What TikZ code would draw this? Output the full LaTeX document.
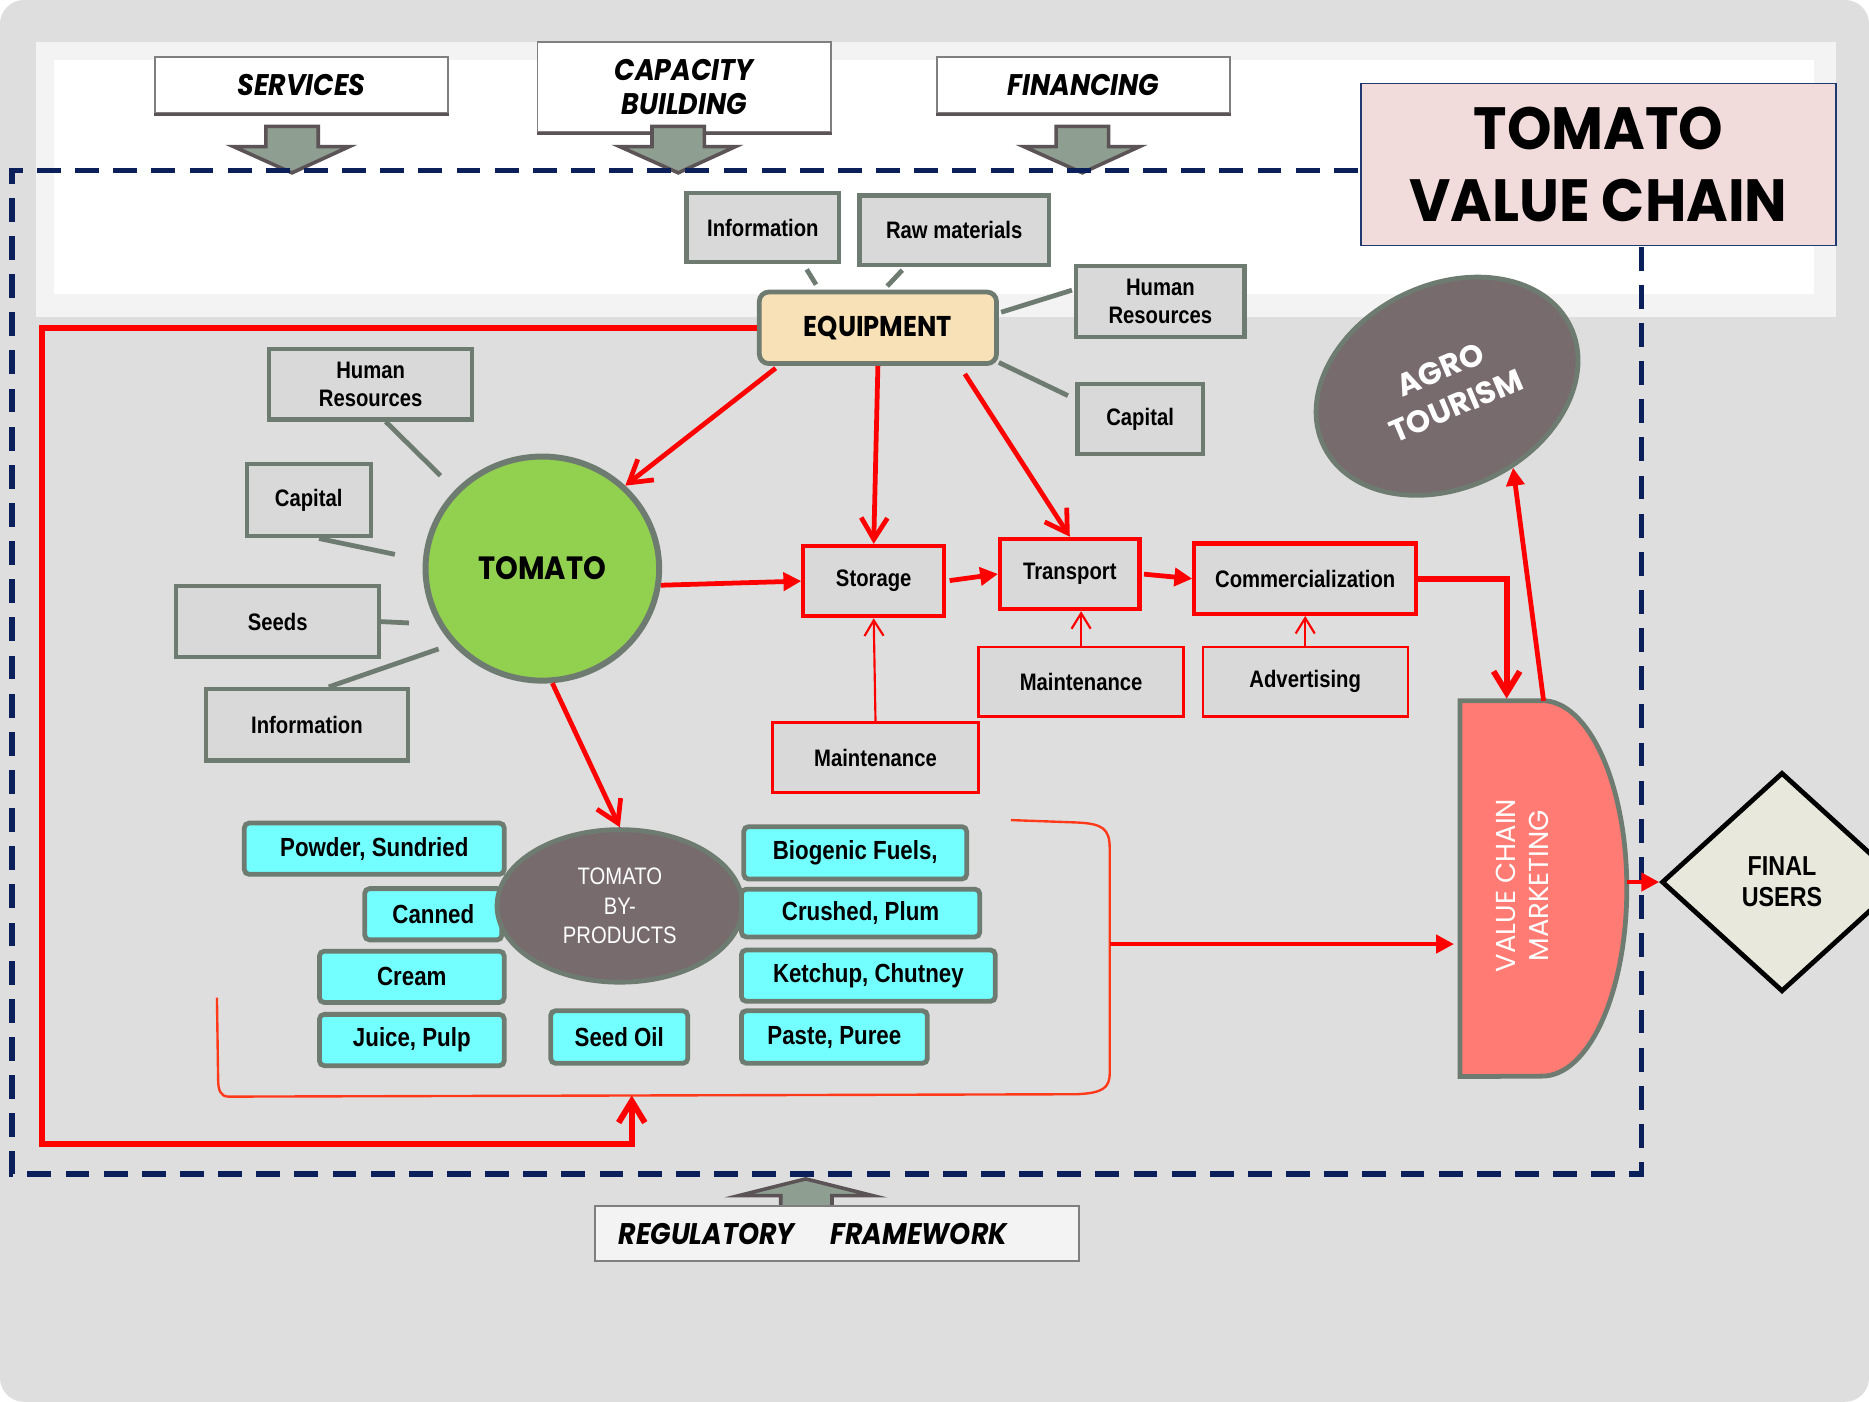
\documentclass[tikz,border=0pt]{standalone}
\usepackage{fontspec}
\setmainfont{Liberation Sans}
\newfontfamily\nar[FakeStretch=0.85]{Liberation Sans}
\newfontfamily\geo[FakeStretch=0.9]{Poppins}
\newfontfamily\geot[FakeStretch=0.95]{Poppins}
\newfontfamily\geow{Poppins}
\usetikzlibrary{arrows.meta,shapes.geometric,calc}
\definecolor{bgc}{HTML}{DEDEDE}
\definecolor{bandc}{HTML}{F3F3F3}
\definecolor{gbord}{HTML}{6E7B70}
\definecolor{gfill}{HTML}{D9D9D9}
\definecolor{cyanf}{HTML}{73FFFF}
\definecolor{wheat}{HTML}{F8E1B6}
\definecolor{tgreen}{HTML}{92D050}
\definecolor{mauve}{HTML}{776B6E}
\definecolor{salmon}{HTML}{FF7B73}
\definecolor{dfill}{HTML}{E8E8DC}
\definecolor{arrf}{HTML}{8E9E90}
\definecolor{arre}{HTML}{5B5356}
\definecolor{navy}{HTML}{0B1F5B}
\definecolor{pinkf}{HTML}{F2DCDB}
\definecolor{tbord}{HTML}{1F3A70}
\definecolor{brkc}{HTML}{FF3A1A}
\definecolor{topb}{HTML}{7F7F7F}
\tikzset{
  vtip/.tip={Straight Barb[length=18pt,width=22pt]},
  vthin/.tip={Straight Barb[length=13pt,width=16pt]},
  ttip/.tip={Triangle[length=15pt,width=15pt]},
  blockarr/.style={fill=arrf, draw=arre, line width=3pt, line join=miter},
  downblk/.pic={\draw[blockarr] (-22,-39) -- (22,-39) -- (22,-22) -- (48,-22) -- (0,0) -- (-49,-22) -- (-22,-22) -- cycle;},
  topbox/.style={draw=topb, fill=white, line width=1.5pt, inner sep=0pt, align=center,
    font=\geo\bfseries\itshape\fontsize{25}{28}\selectfont},
  grayb/.style={draw=gbord, fill=gfill, line width=3.5pt, inner sep=0pt, align=center,
    font=\nar\bfseries\fontsize{20}{24}\selectfont},
  redb/.style={draw=red, fill=gfill, line width=3.5pt, inner sep=0pt, align=center,
    font=\nar\bfseries\fontsize{20}{24}\selectfont},
  redthin/.style={redb, line width=2pt},
  cyanb/.style={draw=gbord, fill=cyanf, line width=4pt, rounded corners=4pt, inner sep=0pt,
    font=\nar\bfseries\fontsize{22}{26}\selectfont},
  grayline/.style={draw=gbord, line width=4pt},
  redarr/.style={draw=red, line width=4pt},
  redthinarr/.style={draw=red, line width=1.8pt},
}
\begin{document}
\begin{tikzpicture}[x=1pt,y=-1pt]
\useasboundingbox (0,0) rectangle (1568,1176);
\fill[white] (0,0) rectangle (1568,1176);
\fill[bgc, rounded corners=20pt] (0,0) rectangle (1568,1176);
\fill[bandc] (30,35) rectangle (1540,266);
\fill[white] (45,50) rectangle (1522,247);

% top boxes
\node[topbox, minimum width=246pt, minimum height=47pt] (services) at (253,71.5) {SERVICES};
\node[topbox, minimum width=246pt, minimum height=76pt] (capacity) at (574,73) {CAPACITY\\BUILDING};
\node[topbox, minimum width=246pt, minimum height=47pt] (financing) at (909,71.5) {FINANCING};
\foreach \n in {services,capacity,financing}{
  \draw[arre, line width=2.5pt] (\n.south west) -- (\n.south east);}
\pic at (245,145) {downblk};
\pic at (569,145) {downblk};
\pic at (908,145) {downblk};

% dashed frame
\draw[navy, line width=4.5pt, dash pattern=on 20pt off 12pt] (1377,207) -- (1377,985) -- (10,985) -- (10,143) -- (1377,143);

% title
\node[draw=tbord, fill=pinkf, line width=1.5pt, minimum width=398pt, minimum height=136pt, inner sep=0pt,
  align=center, font=\geot\bfseries\fontsize{50}{60}\selectfont] (title) at (1341,138) {TOMATO\\VALUE CHAIN};

% upper inputs
\node[grayb, minimum width=128pt, minimum height=58pt] (infoT) at (640,191) {Information};
\node[grayb, minimum width=159pt, minimum height=58pt] (raw) at (800.5,193) {Raw materials};
\node[grayb, minimum width=141pt, minimum height=60pt] (hrR) at (973.5,253) {Human\\Resources};
\node[grayb, minimum width=105pt, minimum height=59pt] (capR) at (956.5,351.5) {Capital};
\node[draw=gbord, fill=wheat, line width=4pt, rounded corners=8pt, minimum width=199pt, minimum height=60pt,
  inner sep=0pt, font=\geo\bfseries\fontsize{24}{28}\selectfont] (equip) at (736.5,275) {EQUIPMENT};

% left inputs
\node[grayb, minimum width=170pt, minimum height=59pt] (hrL) at (311,322.5) {Human\\Resources};
\node[grayb, minimum width=104pt, minimum height=61pt] (capL) at (259,419.5) {Capital};
\node[grayb, minimum width=170pt, minimum height=60pt] (seeds) at (233,521.5) {Seeds};
\node[grayb, minimum width=169pt, minimum height=60pt] (infoL) at (257.5,608) {Information};
\node[ellipse, draw=gbord, fill=tgreen, line width=5pt, minimum width=196pt, minimum height=188pt, inner sep=0pt,
  font=\geo\bfseries\fontsize{27}{30}\selectfont] (tomato) at (455,477) {TOMATO};

% gray connectors
\draw[grayline, shorten <=5pt, shorten >=5pt] (infoT.-42) -- (equip.147);
\draw[grayline, shorten <=4pt, shorten >=4pt] (raw.-143) -- (equip.81);
\draw[grayline, shorten <=2pt, shorten >=2pt] (equip.7) -- (hrR.172);
\draw[grayline, shorten >=7pt] (equip.-16) -- (capR.163);
\draw[grayline, shorten >=17pt] (hrL.-68) -- (tomato.138);
\draw[grayline, shorten >=24pt] (capL.-75) -- (tomato.176);
\draw[grayline, shorten >=24pt] (seeds.east) -- (tomato.208);
\draw[grayline, shorten >=12pt] (infoL.60) -- (tomato.220);

% processing chain
\node[redb, minimum width=118pt, minimum height=59pt] (storage) at (733,487.5) {Storage};
\node[redb, minimum width=117pt, minimum height=59pt] (transport) at (897.5,481.5) {Transport};
\node[redb, minimum width=186pt, minimum height=59pt] (comm) at (1095,485.5) {Commercialization};
\node[redthin, minimum width=172pt, minimum height=58pt] (maintT) at (907,572) {Maintenance};
\node[redthin, minimum width=172pt, minimum height=58pt] (adv) at (1095,572) {Advertising};
\node[redthin, minimum width=173pt, minimum height=59pt] (maintS) at (734.5,635.5) {Maintenance};

% agro tourism
\node[ellipse, rotate=26, draw=gbord, fill=mauve, line width=4pt, minimum width=230pt, minimum height=170pt,
  inner sep=0pt] (agro) at (1214,324) {};
\node[rotate=23, align=center, text=white, inner sep=0pt,
  font=\geow\bfseries\fontsize{26}{33}\selectfont] (agrolabel) at (1215,325) {AGRO\\TOURISM};

% value chain marketing
\node[minimum width=140pt, minimum height=315pt, inner sep=0pt] (vcm) at (1295,745.5) {};
\draw[draw=gbord, fill=salmon, line width=4pt] (vcm.north west) -- ++(69,0)
  arc[start angle=-90, end angle=90, x radius=71, y radius=157.5] -- (vcm.south west) -- cycle;
\node[rotate=90, align=center, text=white, inner sep=0pt, font=\geow\fontsize{23}{28}\selectfont] (vcmlabel) at (1277,743) {VALUE CHAIN\\MARKETING};
\coordinate (vcmin) at (1264,586);
\coordinate (vcmtop) at (1295,588);

% final users
\node[diamond, draw=black, fill=dfill, line width=4pt, minimum width=202pt, minimum height=184pt, inner sep=0pt,
  align=center, font=\nar\bfseries\fontsize{23}{26}\selectfont] (final) at (1495,740) {FINAL\\USERS};

% by-products
\node[cyanb, minimum width=218pt, minimum height=43pt] (powder) at (314,712) {Powder, Sundried};
\node[cyanb, minimum width=115pt, minimum height=43pt] (canned) at (363.5,767) {Canned};
\node[cyanb, minimum width=155pt, minimum height=43pt] (cream) at (345.5,819.5) {Cream};
\node[cyanb, minimum width=155pt, minimum height=43pt] (juice) at (345.5,872.5) {Juice, Pulp};
\node[ellipse, draw=gbord, fill=mauve, line width=4pt, minimum width=206pt, minimum height=128pt, inner sep=0pt,
  align=center, text=white, font=\nar\fontsize{20}{25}\selectfont] (byprod) at (520,760) {TOMATO\\BY-\\PRODUCTS};
\node[cyanb, minimum width=115pt, minimum height=44pt] (seedoil) at (519.5,870) {Seed Oil};
\node[cyanb, minimum width=187pt, minimum height=44pt] (biogenic) at (717.5,715.5) {Biogenic Fuels,};
\node[cyanb, minimum width=200pt, minimum height=40pt] (crushed) at (722,766) {Crushed, Plum};
\node[cyanb, minimum width=213pt, minimum height=43pt] (ketchup) at (728.5,818.5) {Ketchup, Chutney};
\node[cyanb, minimum width=156pt, minimum height=44pt] (paste) at (700,870) {Paste, Puree};

% bracket around by-products
\draw[brkc, line width=2pt] (848,688) -- (903,690) .. controls (925,691) and (931,695) .. (931,712)
  -- (931,900) .. controls (931,913) and (925,917) .. (903,918) -- (192,920)
  .. controls (185,920) and (183,915) .. (183,905) -- (182,837);
\coordinate (brk) at (931,792);
\coordinate (brkb) at (530,919);
\coordinate (loopc) at (35,960);

% regulatory framework
\draw[blockarr] (655,1013) -- (655,1003) -- (620,1003) -- (676,989) -- (732,1003) -- (698,1003) -- (698,1013) -- cycle;
\node[draw=topb, fill=bandc, line width=1.5pt, minimum width=406pt, minimum height=46pt, inner sep=0pt,
  font=\geo\bfseries\itshape\fontsize{25}{28}\selectfont] (reg) at (702,1035) {REGULATORY\hspace{30pt}FRAMEWORK\hspace*{40pt}\mbox{}};

% red connectors
\draw[redarr, line width=5pt, -vtip] (equip.west) -| (loopc) -| (brkb);
\draw[redarr, -vtip, shorten <=3pt] (equip.-159) -- (tomato.45);
\draw[redarr, -vtip] (equip.south) -- (storage.north);
\draw[redarr, -vtip, shorten <=8pt] (equip.-25) -- (transport.north);
\draw[redarr, -ttip] (tomato.-8) -- (storage.west);
\draw[redarr, -ttip, shorten <=3pt] (storage.east) -- (transport.west);
\draw[redarr, -ttip, shorten <=2pt] (transport.east) -- (comm.west);
\draw[redarr, line width=5pt, -vtip] (comm.east) -| (vcmin);
\draw[redarr, -ttip] (vcmtop) -- (agro.-77);
\draw[redarr, -vtip] (tomato.-85) -- (byprod.north);
\draw[redthinarr, -vthin] (maintS.north) -- (storage.south);
\draw[redthinarr, -vthin] (maintT.north) -- (maintT.north |- transport.south);
\draw[redthinarr, -vthin] (adv.north) -- (adv.north |- comm.south);
\draw[redarr, -ttip] (brk) -- ($(brk -| vcm.west)+(-5,0)$);
\draw[redarr, -ttip] (final.west -| vcm.east) -- (final.west);
\end{tikzpicture}
\end{document}
